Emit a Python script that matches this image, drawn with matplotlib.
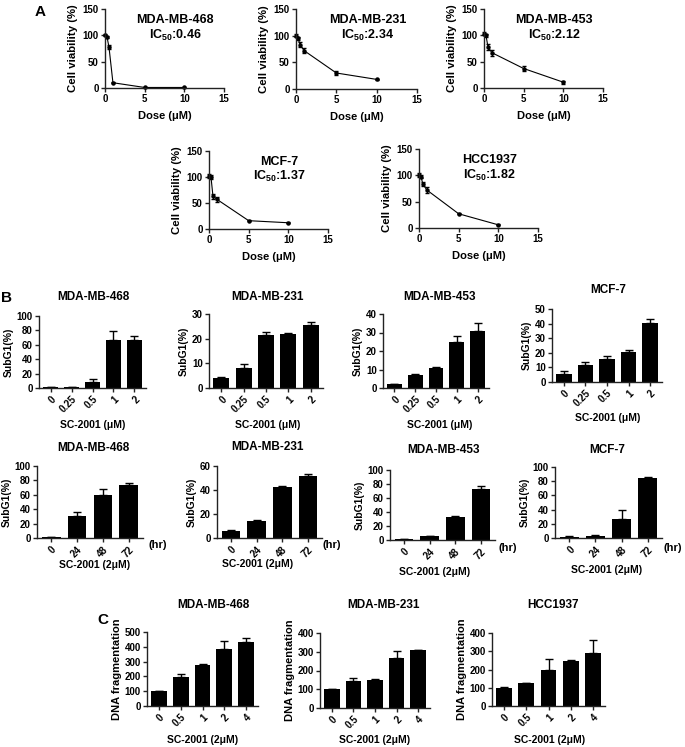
import matplotlib
matplotlib.use('Agg')
import matplotlib.pyplot as plt
import numpy as np

W, H = 685, 747

plt.rcParams['font.family'] = ['Liberation Sans', 'DejaVu Sans']
plt.rcParams['font.weight'] = 'bold'
plt.rcParams['axes.labelweight'] = 'bold'
plt.rcParams['mathtext.fontset'] = 'custom'
plt.rcParams['mathtext.rm'] = 'Liberation Sans:bold'

# ---- data: panel A (cell viability vs dose) ----
doses = [0, 0.25, 0.5, 1, 5, 10]
via_468 = [100, 97, 78, 10, 1, 1]
via_468_err = [2, 2, 4, 1, 0.5, 0.5]
via_231 = [100, 95, 83, 72, 30, 18]
via_231_err = [3, 3, 5, 4, 3, 1]
via_453 = [103, 100, 78, 67, 37, 11]
via_453_err = [3, 3, 5, 6, 4, 3]
via_mcf7 = [102, 100, 63, 57, 16, 12]
via_mcf7_err = [4, 3, 5, 5, 1, 1]
via_hcc = [100, 97, 83, 72, 27, 6]
via_hcc_err = [4, 3, 4, 5, 1, 1]

# ---- data: panel B (SubG1) ----
conc_labels = ['0', '0.25', '0.5', '1', '2']
time_labels = ['0', '24', '48', '72']
sub_468 = [1.5, 1.5, 9, 67, 66]
sub_468_err = [0.5, 0.5, 3, 12, 6]
sub_231 = [4, 8, 21.5, 22, 25.5]
sub_231_err = [0.6, 1.7, 1.2, 0.3, 1.3]
sub_453 = [2, 6.8, 11, 25, 31]
sub_453_err = [0.3, 0.8, 0.6, 3, 4]
sub_mcf7 = [5.5, 11.5, 15.5, 20.5, 40.5]
sub_mcf7_err = [2, 2.5, 2.5, 1.5, 2.5]
time_468 = [1, 30, 60, 73]
time_468_err = [0.5, 6, 8, 3]
time_231 = [6, 14.5, 42.5, 52]
time_231_err = [0.5, 0.3, 1, 1.5]
time_453 = [1.5, 6, 33, 73]
time_453_err = [0.5, 0.4, 1, 4]
time_mcf7 = [2, 3.5, 27, 85]
time_mcf7_err = [0.5, 1, 13, 1]

# ---- data: panel C (DNA fragmentation) ----
frag_labels = ['0', '0.5', '1', '2', '4']
frag_468 = [100, 195, 278, 388, 432]
frag_468_err = [2, 20, 8, 50, 30]
frag_231 = [100, 145, 150, 268, 307]
frag_231_err = [2, 15, 5, 35, 5]
frag_hcc = [100, 125, 200, 245, 290]
frag_hcc_err = [2, 2, 60, 8, 72]

fig = plt.figure(figsize=(6.85, 7.47), dpi=100)


def box(l, t, r, b):
    # axes from pixel edges (left, top, right, bottom)
    return fig.add_axes([l / W, 1 - b / H, (r - l) / W, (b - t) / H])


def label(x, y, s, size=8):
    fig.text(x / W, 1 - y / H, s, fontsize=size, ha='center', va='center',
             fontweight='bold')


def clean(ax):
    for s in ['top', 'right']:
        ax.spines[s].set_visible(False)
    for s in ['left', 'bottom']:
        ax.spines[s].set_linewidth(1.0)
        ax.spines[s].set_color('#222222')
    ax.tick_params(length=3, width=1, labelsize=7, pad=1.5, color='#222222')


def viability(ax, vals, errs, name, ic50):
    ax.errorbar(doses, vals, yerr=errs, color='black', lw=0.8, marker='o',
                ms=2.2, capsize=1.5, elinewidth=0.8, clip_on=False)
    ax.set_xlim(0, 15)
    ax.set_ylim(0, 150)
    ax.set_xticks([0, 5, 10, 15])
    ax.set_yticks([0, 50, 100, 150])
    ax.set_xlabel('Dose (\u03bcM)', fontsize=8, labelpad=5)
    ax.set_ylabel('Cell viability (%)', fontsize=8.2, labelpad=3)
    ax.text(0.59, 0.86, name, transform=ax.transAxes, ha='center', va='center',
            fontsize=9)
    ax.text(0.59, 0.67, 'IC$_{50}$:' + ic50, transform=ax.transAxes,
            ha='center', va='center', fontsize=9)
    clean(ax)


def bars(ax, labels, vals, errs, yticks, ylabel='SubG1(%)', ysize=7.5):
    x = np.arange(len(vals))
    ax.bar(x, vals, width=0.72, color='black')
    ax.errorbar(x, vals, yerr=[np.zeros(len(errs)), errs], fmt='none',
                ecolor='black', elinewidth=1, capsize=3, capthick=1)
    ax.set_xticks(x)
    ax.set_xticklabels(labels, rotation=45, ha='right', rotation_mode='anchor')
    ax.set_xlim(-0.55, len(vals) - 0.45)
    ax.set_ylim(0, yticks[-1])
    ax.set_yticks(yticks)
    ax.set_ylabel(ylabel, fontsize=ysize, labelpad=2)
    clean(ax)


# Panel A
viability(box(105, 9, 224, 88), via_468, via_468_err, 'MDA-MB-468', '0.46')
viability(box(296, 9, 417, 89), via_231, via_231_err, 'MDA-MB-231', '2.34')
viability(box(484, 9, 603, 88), via_453, via_453_err, 'MDA-MB-453', '2.12')
viability(box(209, 151, 328, 229), via_mcf7, via_mcf7_err, 'MCF-7', '1.37')
viability(box(419, 149, 538, 228), via_hcc, via_hcc_err, 'HCC1937', '1.82')
label(40, 12, 'A', 11)

# Panel B, concentration
b1 = box(39, 316, 146, 388)
bars(b1, conc_labels, sub_468, sub_468_err, [0, 20, 40, 60, 80, 100])
b2 = box(209, 314, 323, 388)
bars(b2, conc_labels, sub_231, sub_231_err, [0, 10, 20, 30])
b3 = box(383, 314, 489, 388)
bars(b3, conc_labels, sub_453, sub_453_err, [0, 10, 20, 30, 40])
b4 = box(552, 309, 662, 382)
bars(b4, conc_labels, sub_mcf7, sub_mcf7_err, [0, 10, 20, 30, 40, 50])
label(6, 298, 'B', 11)
label(93, 297, 'MDA-MB-468', 8.5)
label(268, 297, 'MDA-MB-231', 8.5)
label(440, 297, 'MDA-MB-453', 8.5)
label(608, 290, 'MCF-7', 8.5)
label(93, 425, 'SC-2001 (\u03bcM)', 7.5)
label(268, 425, 'SC-2001 (\u03bcM)', 7.5)
label(440, 425, 'SC-2001 (\u03bcM)', 7.5)
label(608, 418, 'SC-2001 (\u03bcM)', 7.5)

# Panel B, time course
b5 = box(37, 466, 143, 538)
bars(b5, time_labels, time_468, time_468_err, [0, 20, 40, 60, 80, 100])
b6 = box(217, 466, 322, 538)
bars(b6, time_labels, time_231, time_231_err, [0, 20, 40, 60])
b7 = box(390, 470, 495, 540)
bars(b7, time_labels, time_453, time_453_err, [0, 20, 40, 60, 80, 100])
b8 = box(555, 467, 662, 538)
bars(b8, time_labels, time_mcf7, time_mcf7_err, [0, 20, 40, 60, 80, 100])
label(93, 448, 'MDA-MB-468', 8.5)
label(268, 447, 'MDA-MB-231', 8.5)
label(443, 450, 'MDA-MB-453', 8.5)
label(607, 450, 'MCF-7', 8.5)
for hx, hy in [(158, 545), (332, 545), (508, 548), (673, 548)]:
    label(hx, hy, '(hr)', 8)
label(95, 565, 'SC-2001 (2\u03bcM)', 7.5)
label(258, 564, 'SC-2001 (2\u03bcM)', 7.5)
label(435, 572, 'SC-2001 (2\u03bcM)', 7.5)
label(607, 570, 'SC-2001 (2\u03bcM)', 7.5)

# Panel C
c1 = box(147, 632, 258, 706)
bars(c1, frag_labels, frag_468, frag_468_err, [0, 100, 200, 300, 400, 500],
     'DNA fragmentation', 8)
c2 = box(320, 633, 430, 708)
bars(c2, frag_labels, frag_231, frag_231_err, [0, 100, 200, 300, 400],
     'DNA fragmentation', 8)
c3 = box(492, 633, 605, 706)
bars(c3, frag_labels, frag_hcc, frag_hcc_err, [0, 100, 200, 300, 400],
     'DNA fragmentation', 8)
label(103, 620, 'C', 11)
label(213, 605, 'MDA-MB-468', 8.5)
label(383, 605, 'MDA-MB-231', 8.5)
label(553, 605, 'HCC1937', 8.5)
label(203, 740, 'SC-2001 (2\u03bcM)', 7.5)
label(375, 740, 'SC-2001 (2\u03bcM)', 7.5)
label(550, 740, 'SC-2001 (2\u03bcM)', 7.5)

fig.savefig('out.png', dpi=100)
